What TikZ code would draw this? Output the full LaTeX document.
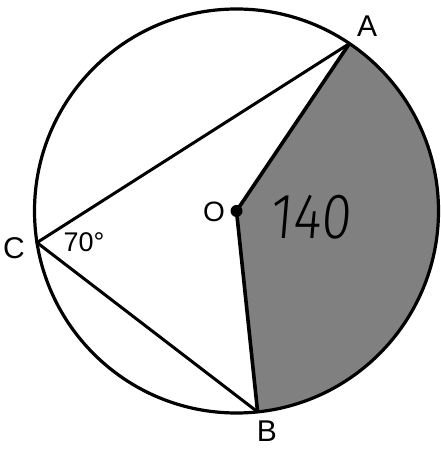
\documentclass[tikz,border=0pt]{standalone}
\usepackage{fontspec}
\setmainfont{Liberation Sans}
\newfontfamily\handfont[FakeSlant=0.1]{Fira Sans Light}
\usetikzlibrary{calc}
\begin{document}
\begin{tikzpicture}[x=1pt,y=1pt,
  lbl/.style={inner sep=0pt,font=\fontsize{30}{33}\selectfont},
  chord/.style={line width=3pt,line join=round},
  rim/.style={line width=3.2pt},
  shade/.style={fill=black!50}]
\useasboundingbox (0,0) rectangle (440,449);
\def\R{202}
\coordinate (O) at (236.5,238);
\coordinate (A) at ($(O)+(56:\R)$);
\coordinate (B) at ($(O)+(-84:\R)$);
\coordinate (C) at ($(O)+(189:\R)$);
% shaded sector
\fill[shade] (O) -- (A) arc[start angle=56,end angle=-84,radius=\R] -- cycle;
% circle
\draw[rim] (O) circle[radius=\R];
% chords
\draw[chord] (A) -- (C) -- (B);
% radii
\draw[line width=3.6pt,line join=round] (A) -- (O) -- (B);
\fill (O) circle[radius=6];
% labels
\node[lbl] (lA) at (367,423) {A};
\node[lbl] (lB) at (267,18) {B};
\node[lbl] (lC) at (14,201) {C};
\node[lbl,font=\fontsize{28}{30}\selectfont] (lO) at (214,237) {O};
\node[lbl,font=\fontsize{27}{30}\selectfont] (l70) at (84,207) {70°};
\node[inner sep=0pt,xscale=0.85,font=\handfont\fontsize{64}{66}\selectfont] (l140) at (310,232) {140};
\end{tikzpicture}
\end{document}
